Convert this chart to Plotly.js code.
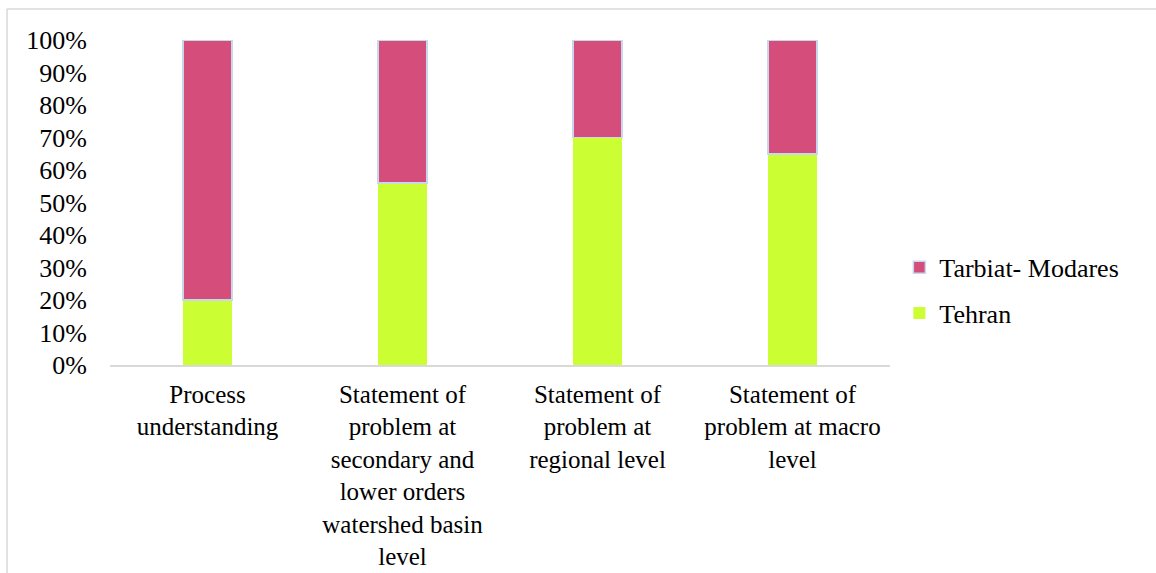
<!DOCTYPE html>
<html>
<head>
<meta charset="utf-8">
<script src="https://cdn.plot.ly/plotly-3.0.1.min.js"></script>
<style>
#chart text { font-family: "Liberation Serif", "Times New Roman", serif !important; }
</style>
</head>
<body style="margin:0">
<div id="chart" style="width:1156px;height:573px"></div>
<script>
const categories = [
  "Process<br>understanding",
  "Statement of<br>problem at<br>secondary and<br>lower orders<br>watershed basin<br>level",
  "Statement of<br>problem at<br>regional level",
  "Statement of<br>problem at macro<br>level"
];
const tehran = [20, 56, 70, 65];
const tarbiatModares = [80, 44, 30, 35];
const yTicks = [0, 10, 20, 30, 40, 50, 60, 70, 80, 90, 100];
const yTickText = yTicks.map(v => v + "%");

const f = (s) => ({family: "Liberation Serif", size: s, color: "#000"});

const traces = [
  {
    type: "bar", name: "Tehran", x: categories, y: tehran,
    marker: {color: "#ccff33"},
    legendgroup: "a", legendrank: 2, hoverinfo: "none"
  },
  {
    type: "bar", name: "Tarbiat- Modares", x: categories, y: tarbiatModares,
    marker: {color: "#d54d7b", line: {color: "#c8d8ec", width: 1.5}},
    legendgroup: "b", legendrank: 1, hoverinfo: "none"
  }
];

const layout = {
  width: 1156, height: 573,
  margin: {l: 110, r: 266, t: 40, b: 208},
  font: f(25),
  barmode: "stack",
  bargap: 0.75,
  showlegend: true,
  legend: {
    x: 1.012, xanchor: "left", y: 0.23, yanchor: "middle",
    traceorder: "grouped", tracegroupgap: 9,
    font: f(26)
  },
  xaxis: {
    type: "category",
    showline: true, linecolor: "#d9d9d9", linewidth: 1.5,
    showgrid: false, ticks: "", tickfont: f(25), tickangle: 0,
    ticklabelstandoff: 6
  },
  yaxis: {
    range: [0, 100], tickmode: "array", tickvals: yTicks, ticktext: yTickText,
    showgrid: false, zeroline: false, showline: false, ticks: "",
    tickfont: f(26), ticklabelstandoff: 22
  },
  shapes: [
    {type: "line", xref: "paper", yref: "paper", x0: (7-110)/780, x1: (7-110)/780, y0: (365-575)/325, y1: (365-9)/325, line: {color: "#d9d9d9", width: 1.5}},
    {type: "line", xref: "paper", yref: "paper", x0: (7-110)/780, x1: (1160-110)/780, y0: (365-9)/325, y1: (365-9)/325, line: {color: "#d9d9d9", width: 1.5}}
  ]
};

Plotly.newPlot("chart", traces, layout, {staticPlot: true});
</script>
</body>
</html>
